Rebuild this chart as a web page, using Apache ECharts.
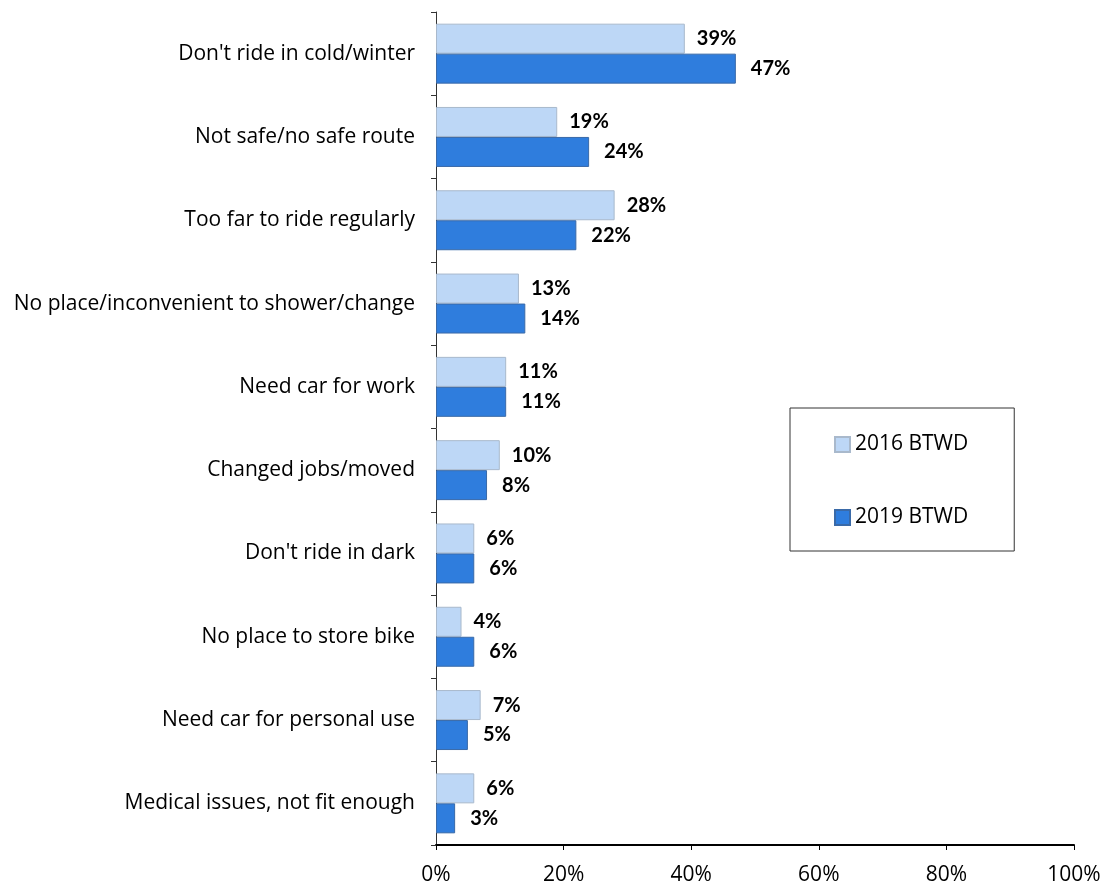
<!DOCTYPE html>
<html>
<head>
<meta charset="utf-8">
<script src="https://cdn.jsdelivr.net/npm/echarts@6/dist/echarts.min.js"></script>
<style>
  html, body { margin: 0; padding: 0; background: #fff; }
  #chart { width: 1104px; height: 888px; }
</style>
</head>
<body>
<div id="chart"></div>
<script>
// Reasons for not riding
const categories = [
  "Don't ride in cold/winter",
  'Not safe/no safe route',
  'Too far to ride regularly',
  'No place/inconvenient to shower/change',
  'Need car for work',
  'Changed jobs/moved',
  "Don't ride in dark",
  'No place to store bike',
  'Need car for personal use',
  'Medical issues, not fit enough'
];
const values2016 = [39, 19, 28, 13, 11, 10, 6, 4, 7, 6];
const values2019 = [47, 24, 22, 14, 11, 8, 6, 6, 5, 3];
const xTicks = [0, 20, 40, 60, 80, 100];

const font = '"Open Sans", Lato, sans-serif';
const boldFont = 'Lato, "Open Sans", sans-serif';

const chart = echarts.init(document.getElementById('chart'));

const option = {
  animation: false,
  textStyle: { fontFamily: font },
  grid: {
    left: 436,
    right: 30,
    top: 12,
    bottom: 43,
    outerBoundsMode: 'none'
  },
  legend: {
    orient: 'vertical',
    left: 790,
    top: 408,
    padding: [26, 46, 23, 44],
    borderColor: '#333',
    borderWidth: 1,
    icon: 'rect',
    itemWidth: 15,
    itemHeight: 15,
    itemGap: 52,
    textStyle: { fontSize: 21, color: '#000', fontFamily: font },
    data: ['2016 BTWD', '2019 BTWD']
  },
  xAxis: {
    type: 'value',
    min: 0,
    max: 100,
    interval: 20,
    splitLine: { show: false },
    axisLine: { show: true, lineStyle: { color: '#000', width: 2 } },
    axisTick: { show: true, length: 5, lineStyle: { color: '#000' } },
    axisLabel: {
      margin: 20,
      fontSize: 21,
      color: '#000',
      formatter: function (v) { return xTicks.indexOf(v) >= 0 ? v + '%' : ''; }
    }
  },
  yAxis: {
    type: 'category',
    inverse: true,
    data: categories,
    axisLine: { show: true, lineStyle: { color: '#333', width: 1 } },
    axisTick: { show: true, length: 5, inside: false, lineStyle: { color: '#333' } },
    axisLabel: { margin: 21, fontSize: 21, color: '#000' }
  },
  series: [{
    name: '2016 BTWD',
    type: 'bar',
    data: values2016,
    barGap: '0%',
    barCategoryGap: '28%',
    itemStyle: { color: '#bdd7f6', borderColor: '#a9b9cc', borderWidth: 1 },
    label: {
      show: true,
      position: 'right',
      distance: 12,
      formatter: '{c}%',
      fontFamily: boldFont,
      fontWeight: 'bold',
      fontSize: 20,
      color: '#000'
    }
  }, {
    name: '2019 BTWD',
    type: 'bar',
    data: values2019,
    itemStyle: { color: '#2f7ddd', borderColor: '#3a6aa8', borderWidth: 1 },
    label: {
      show: true,
      position: 'right',
      distance: 15,
      formatter: '{c}%',
      fontFamily: boldFont,
      fontWeight: 'bold',
      fontSize: 20,
      color: '#000'
    }
  }]
};

chart.setOption(option);
</script>
</body>
</html>
